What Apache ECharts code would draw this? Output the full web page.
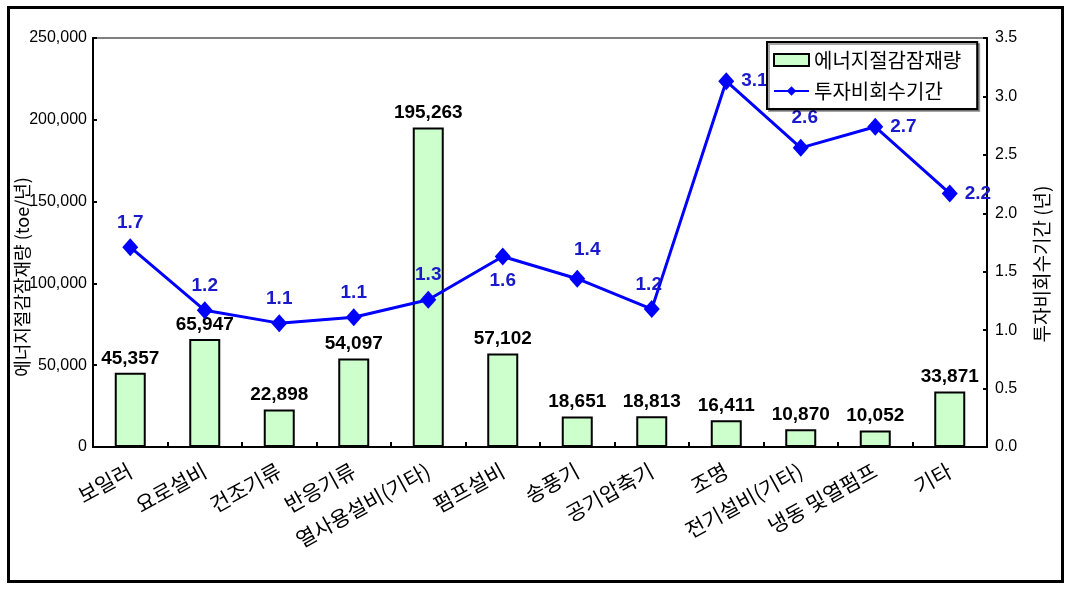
<!DOCTYPE html>
<html>
<head>
<meta charset="utf-8">
<script src="https://cdn.jsdelivr.net/npm/echarts@6/dist/echarts.min.js"></script>
<style>
html,body{margin:0;padding:0;background:#fff;}
#chart{width:1069px;height:591px;}
</style>
</head>
<body>
<div id="chart"></div>
<script>
var categories = ['보일러','요로설비','건조기류','반응기류','열사용설비(기타)','펌프설비','송풍기','공기압축기','조명','전기설비(기타)','냉동 및열펌프','기타'];
var savings = [45357, 65947, 22898, 54097, 195263, 57102, 18651, 18813, 16411, 10870, 10052, 33871];
var payback = [1.71, 1.17, 1.06, 1.11, 1.26, 1.63, 1.44, 1.18, 3.13, 2.56, 2.74, 2.17];
var seriesNames = ['에너지절감잠재량', '투자비회수기간'];
var leftAxisName = '에너지절감잠재량 (toe/년)';
var rightAxisName = '투자비회수기간 (년)';

var FONT = '"Liberation Sans", Arial, "Noto Sans CJK KR", sans-serif';
var KFONT = '"Noto Sans CJK KR", sans-serif';
var labelPos = ['top','top','top','top','top','bottom','top','top','right','top','right','right'];

var lineData = payback.map(function (v, i) {
  var pos = labelPos[i];
  var off = [0, 0];
  if (i === 6) off = [10, -4];
  if (i === 9) off = [4, -6];
  if (i === 7) off = [-3, 0];
  return { value: v, label: { position: pos, offset: off, distance: pos === 'right' ? 7 : 6 } };
});

var chart = echarts.init(document.getElementById('chart'), null, { renderer: 'canvas' });
chart.setOption({
  backgroundColor: '#ffffff',
  animation: false,
  textStyle: { fontFamily: FONT },
  grid: { left: 93, right: 82, top: 38, bottom: 144, show: true, borderColor: '#808080', borderWidth: 2, backgroundColor: 'transparent' },
  legend: {
    orient: 'vertical',
    left: 767, top: 42,
    padding: [8, 16, 8, 6],
    itemGap: 11,
    itemWidth: 35, itemHeight: 12,
    borderColor: '#000', borderWidth: 2,
    backgroundColor: '#fff',
    shadowColor: 'rgba(0,0,0,0.35)', shadowOffsetX: 2, shadowOffsetY: 2, shadowBlur: 0,
    textStyle: { fontSize: 20, color: '#000', fontFamily: KFONT },
    data: [
      { name: seriesNames[0], icon: 'rect' },
      { name: seriesNames[1] }
    ]
  },
  xAxis: {
    type: 'category',
    data: categories,
    axisLine: { lineStyle: { color: '#000', width: 2 } },
    axisTick: { show: true, inside: true, length: 5, lineStyle: { color: '#000', width: 2 } },
    axisLabel: { rotate: 29, margin: 22, fontSize: 21, color: '#000', interval: 0, fontFamily: KFONT },
    splitLine: { show: false }
  },
  yAxis: [
    {
      type: 'value', min: 0, max: 250000, interval: 50000,
      axisLine: { show: true, lineStyle: { color: '#000', width: 2 } },
      axisTick: { show: true, inside: true, length: 4, lineStyle: { color: '#000', width: 2 } },
      axisLabel: { fontSize: 16, color: '#000', margin: 6, formatter: function (v) { return v.toLocaleString('en-US'); } },
      splitLine: { show: false }
    },
    {
      type: 'value', min: 0, max: 3.5, interval: 0.5,
      axisLine: { show: true, lineStyle: { color: '#000', width: 2 } },
      axisTick: { show: true, inside: true, length: 4, lineStyle: { color: '#000', width: 2 } },
      axisLabel: { fontSize: 16, color: '#000', margin: 8, formatter: function (v) { return v.toFixed(1); } },
      splitLine: { show: false }
    }
  ],
  series: [
    {
      name: seriesNames[0],
      type: 'bar',
      yAxisIndex: 0,
      data: savings,
      barWidth: 31,
      itemStyle: { color: '#ccffcc', borderColor: '#000', borderWidth: 2 },
      label: {
        show: true, position: 'top', distance: 5,
        fontSize: 19, fontWeight: 'bold', color: '#000',
        formatter: function (p) { return p.value.toLocaleString('en-US'); }
      },
      z: 2
    },
    {
      name: seriesNames[1],
      type: 'line',
      yAxisIndex: 1,
      data: lineData,
      symbol: 'diamond',
      symbolSize: [16, 18],
      lineStyle: { color: '#0000ff', width: 3 },
      itemStyle: { color: '#0000ff' },
      label: {
        show: true, fontSize: 19, fontWeight: 'bold', color: '#1a1acc',
        formatter: function (p) { return p.value.toFixed(1); }
      },
      z: 3
    }
  ],
  graphic: [
    {
      type: 'rect', left: 7, top: 6, z: -1,
      shape: { width: 1054, height: 574 },
      style: { fill: 'transparent', stroke: '#000', lineWidth: 3 }
    },
    {
      type: 'text', x: 22, y: 277, rotation: Math.PI / 2,
      style: { text: leftAxisName, fontSize: 18, fill: '#000', align: 'center', verticalAlign: 'middle', fontFamily: KFONT }
    },
    {
      type: 'text', x: 1042, y: 264, rotation: Math.PI / 2,
      style: { text: rightAxisName, fontSize: 19, fill: '#000', align: 'center', verticalAlign: 'middle', fontFamily: KFONT }
    }
  ]
});
</script>
</body>
</html>
